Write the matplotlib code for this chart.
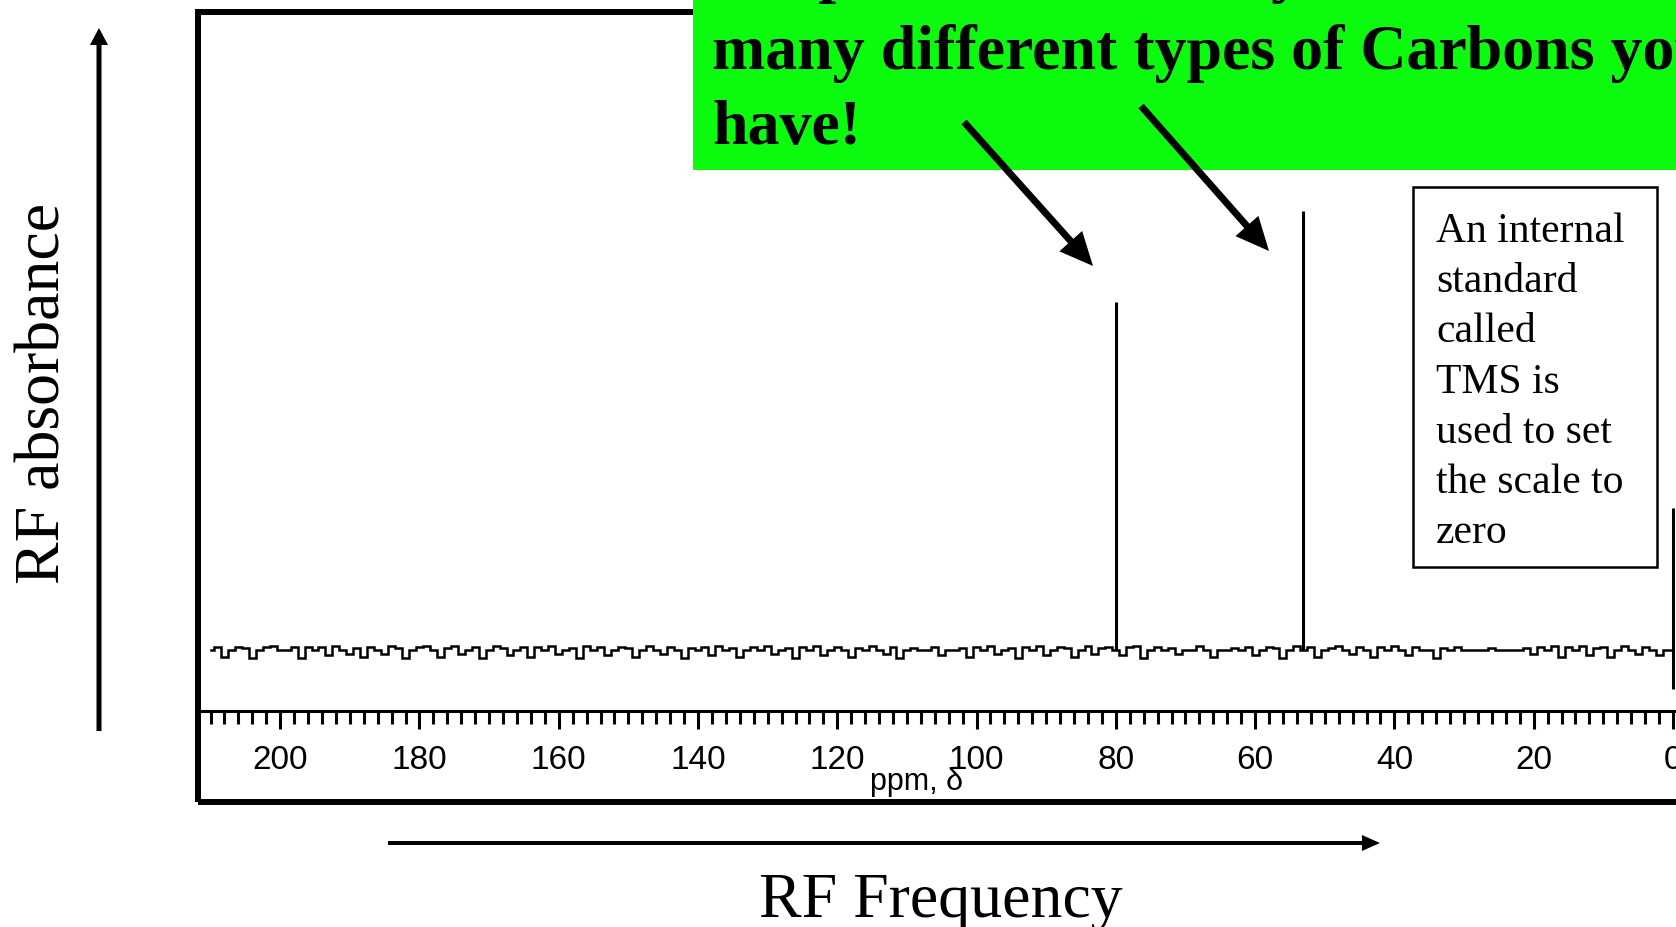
import numpy as np
import matplotlib
matplotlib.use("Agg")
import matplotlib.pyplot as plt
from matplotlib.patches import Rectangle, FancyArrowPatch
from matplotlib.ticker import MultipleLocator

# ---------------- data ----------------
shift_ppm = np.arange(210, -1, -1)          # chemical-shift sampling grid (ppm)
baseline_noise = [                           # milli-absorbance, ppm 210 -> 0
    0, 6, -15, 0, 6, 4, -18, 0, 6, 9,
    0, 0, 6, -18, 6, 0, 6, -12, 9, 0,
    -8, 4, -15, 6, 0, -8, 9, 4, -18, 0,
    6, 9, 0, -15, 4, 9, -8, 0, 6, -18,
    0, 9, 4, -12, 0, 6, -15, 6, 0, 9,
    -8, 0, 4, -18, 9, 0, 6, -12, 0, 6,
    4, -15, 0, 9, 0, -8, 6, 0, -18, 4,
    0, 6, -12, 9, 0, 4, -15, 0, 6, 0,
    9, -8, 0, 4, -18, 6, 0, 9, -12, 0,
    6, 0, -15, 4, 0, 9, 0, -8, 6, -18,
    0, 4, 0, 0, 6, -12, 0, 0, 4, -15,
    6, 0, 9, -8, 0, 4, -18, 6, 0, 9,
    -12, 0, 6, 4, -15, 0, 9, -8, 4, 6,
    0, -12, 6, 9, -18, 0, 6, 0, 4, -8,
    0, 0, 9, 0, -15, 0, 0, 4, 0, 6,
    -12, 0, 6, 4, -18, 0, 9, 0, 6, -15,
    0, 4, 9, 0, -8, 6, 0, -15, 6, 0,
    9, 0, -12, 6, 0, 0, -18, 4, 0, 6,
    0, 0, 0, 0, 4, 0, 0, 0, 0, 4,
    -8, 6, 0, 9, -15, 6, 0, 9, -12, 4,
    6, -15, 0, 9, 0, -8, 6, 0, -12, 0,
    0,
]
peak_ppm = [80.0, 53.1, 0.0]
peak_top = [0.793, 1.0, 0.323]
peak_bottom = [0.0, 0.0, -0.089]
major_ticks = [200, 180, 160, 140, 120, 100, 80, 60, 40, 20, 0]
tick_labels = ["200", "180", "160", "140", "120", "100", "80", "60", "40", "20", "0"]

title_lines = ["Simple to read: tells you how",
               "many different types of Carbons you",
               "have!"]
tms_lines = ["An internal", "standard", "called", "TMS is",
             "used to set", "the scale to", "zero"]

# ---------------- figure ----------------
W, H = 1676, 928
fig = plt.figure(figsize=(W / 100, H / 100), dpi=100)
fig.patch.set_facecolor("white")

def fx(px):
    return px / W

def fy(py):
    return 1 - py / H

SERIF = ["Liberation Serif", "DejaVu Serif"]
PIX = ["Liberation Sans Narrow", "Liberation Sans", "DejaVu Sans"]

ax = fig.add_axes([fx(198), fy(803), fx(1760 - 198), (803 - 13) / H])
ax.set_xlim(211.8, -12.5)
ax.set_ylim(-0.346, 1.453)
ax.patch.set_alpha(0)

ax.plot(shift_ppm, np.array(baseline_noise) / 1000.0, drawstyle="steps-mid",
        color="black", lw=1.8, solid_joinstyle="miter")
ax.vlines(peak_ppm, peak_bottom, peak_top, color="black", lw=2.2)

for s in ["left", "top", "right"]:
    ax.spines[s].set_visible(False)
ax.spines["bottom"].set_position(("data", -0.139))
ax.spines["bottom"].set_linewidth(2.2)
ax.set_yticks([])
ax.set_xticks(major_ticks, tick_labels)
ax.xaxis.set_minor_locator(MultipleLocator(2))
ax.tick_params(axis="x", which="major", length=13, width=2.2, direction="out",
               pad=11, labelsize=24)
ax.tick_params(axis="x", which="minor", length=9.4, width=2.2, direction="out")
for lbl in ax.get_xticklabels():
    lbl.set_fontfamily(PIX)

# thick frame
ax.add_patch(Rectangle((0, 0), 1, 1, transform=ax.transAxes, fill=False,
                       lw=4.3, ec="black", clip_on=False, zorder=5))

# ppm label
fig.text(fx(916), fy(790), "ppm, δ", fontsize=22, family=PIX,
         ha="center", va="baseline")

# green callout
fig.add_artist(Rectangle((fx(693), fy(171)), fx(1700 - 693), 200 / H,
                         transform=fig.transFigure, fc="#0BFA0E", ec="none",
                         zorder=6))
baselines = [-10, 69, 144]
for line, b in zip(title_lines, baselines):
    fig.text(fx(712), fy(b), line, fontsize=46, fontweight="bold", family=SERIF,
             ha="left", va="baseline", zorder=7)

def big_arrow(p0, p1, tail, hw, hl, z=8):
    a = FancyArrowPatch(posA=(fx(p0[0]), fy(p0[1])), posB=(fx(p1[0]), fy(p1[1])),
                        transform=fig.transFigure,
                        arrowstyle=f"simple,head_length={hl},head_width={hw},tail_width={tail}",
                        mutation_scale=10, fc="black", ec="black", lw=0,
                        shrinkA=0, shrinkB=0, zorder=z)
    fig.add_artist(a)

big_arrow((964, 123), (1093, 267), 0.5, 2.2, 2.4)
big_arrow((1141, 107), (1269, 252), 0.5, 2.2, 2.4)

# TMS box
fig.add_artist(Rectangle((fx(1413), fy(568)), fx(244), (568 - 188) / H,
                         transform=fig.transFigure, fc="white", ec="black",
                         lw=1.8, zorder=6))
for i, line in enumerate(tms_lines):
    fig.text(fx(1436), fy(242 + i * 50.2), line, fontsize=30, family=SERIF,
             ha="left", va="baseline", zorder=7)

# axis arrows and labels
big_arrow((99, 732), (99, 29), 0.36, 1.3, 1.22)
big_arrow((388, 844), (1380, 844), 0.29, 1.15, 1.3)
fig.text(fx(45), fy(393), "RF absorbance", fontsize=46, family=SERIF,
         rotation=90, ha="center", va="center")
fig.text(fx(941), fy(917), "RF Frequency", fontsize=46, family=SERIF,
         ha="center", va="baseline")

fig.savefig("out.png", dpi=100)
